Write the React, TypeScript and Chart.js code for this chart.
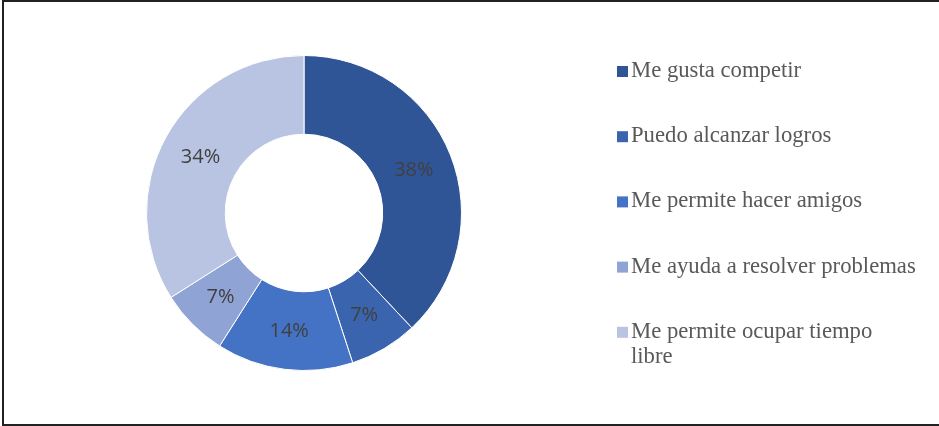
import React, { useEffect, useRef } from "react";
import { Chart, registerables } from "chart.js";

Chart.register(...registerables);

const categories = [
  "Me gusta competir",
  "Puedo alcanzar logros",
  "Me permite hacer amigos",
  "Me ayuda a resolver problemas",
  "Me permite ocupar tiempo libre",
];
const percentages = [38, 7, 14, 7, 34];
const sliceColors = ["#2F5597", "#3A64AE", "#4472C4", "#8FA3D5", "#B9C3E2"];

const W = 939;
const H = 426;
const LABEL_FONT = "20px 'Open Sans'";
const LEGEND_FONT = "22.7px 'Liberation Serif'";

const sliceLabelPlugin = {
  id: "sliceLabels",
  afterDatasetsDraw(chart: any) {
    const ctx = chart.ctx;
    const meta = chart.getDatasetMeta(0);
    ctx.save();
    ctx.font = LABEL_FONT;
    ctx.fillStyle = "#404040";
    ctx.textAlign = "center";
    ctx.textBaseline = "middle";
    meta.data.forEach((arc: any, i: number) => {
      const p = arc.tooltipPosition();
      ctx.fillText(percentages[i] + "%", p.x, p.y + 1);
    });
    ctx.restore();
  },
};

const sideLegendPlugin = {
  id: "sideLegend",
  afterDraw(chart: any) {
    const ctx = chart.ctx;
    const labels: string[] = chart.data.labels;
    const colors: string[] = chart.data.datasets[0].backgroundColor;
    const x0 = 617;
    const sq = 11;
    const textX = 631;
    const firstBaseline = 77;
    const step = 65.2;
    const lineH = 25;
    const maxW = 287;
    ctx.save();
    ctx.font = LEGEND_FONT;
    ctx.textAlign = "left";
    ctx.textBaseline = "alphabetic";
    labels.forEach((label, i) => {
      const base = firstBaseline + step * i;
      ctx.fillStyle = colors[i];
      ctx.fillRect(x0, base - sq, sq, sq);
      ctx.fillStyle = "#595959";
      const words = label.split(" ");
      const lines: string[] = [];
      let cur = "";
      words.forEach((w) => {
        const test = cur ? cur + " " + w : w;
        if (ctx.measureText(test).width > maxW && cur) {
          lines.push(cur);
          cur = w;
        } else {
          cur = test;
        }
      });
      if (cur) lines.push(cur);
      lines.forEach((ln, j) => ctx.fillText(ln, textX, base + j * lineH));
    });
    ctx.restore();
  },
};

export default function App() {
  const canvasRef = useRef<HTMLCanvasElement | null>(null);

  useEffect(() => {
    if (!canvasRef.current) return;
    const chart = new Chart(canvasRef.current, {
      type: "doughnut",
      data: {
        labels: categories,
        datasets: [
          {
            data: percentages,
            backgroundColor: sliceColors,
            borderColor: "#ffffff",
            borderWidth: 1,
          },
        ],
      },
      options: {
        responsive: false,
        animation: false,
        cutout: "50%",
        layout: { padding: { left: 146, right: 477, top: 55, bottom: 55 } },
        plugins: {
          legend: { display: false },
          tooltip: { enabled: false },
        },
      },
      plugins: [sliceLabelPlugin, sideLegendPlugin],
    } as any);
    let alive = true;
    Promise.all([document.fonts.load(LABEL_FONT), document.fonts.load(LEGEND_FONT)])
      .then(() => {
        if (alive) chart.update();
      })
      .catch(() => {});
    return () => {
      alive = false;
      chart.destroy();
    };
  }, []);

  return (
    <div style={{ position: "absolute", left: 0, top: 0, width: W, height: H, background: "#fff", overflow: "hidden" }}>
      <span style={{ position: "absolute", left: -9999, fontFamily: "'Liberation Serif'" }}>a</span>
      <span style={{ position: "absolute", left: -9999, fontFamily: "'Open Sans'" }}>a</span>
      <canvas ref={canvasRef} width={W} height={H} style={{ position: "absolute", left: 0, top: 0 }} />
      <div
        style={{
          position: "absolute",
          left: 2,
          top: 0,
          width: W - 2,
          height: H,
          boxSizing: "border-box",
          borderStyle: "solid",
          borderColor: "#222",
          borderWidth: "2px 0 2px 2px",
          pointerEvents: "none",
        }}
      />
    </div>
  );
}
